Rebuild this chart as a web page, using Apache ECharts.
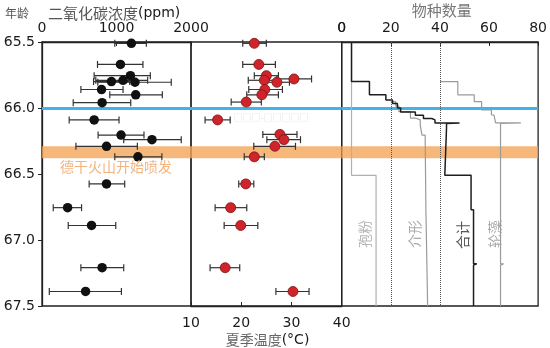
<!DOCTYPE html>
<html><head><meta charset="utf-8">
<script src="https://cdn.jsdelivr.net/npm/echarts/dist/echarts.min.js"></script>
<style>html,body{margin:0;padding:0;background:#fff}#c{width:550px;height:348px}</style>
</head><body><div id="c"></div>
<script>
// ---- data ----
const ageTicks = [65.5, 66.0, 66.5, 67.0, 67.5];
const co2Ticks = [0, 1000, 2000];
const tempTicks = [10, 20, 30, 40];
const speciesTicks = [0, 20, 40, 60, 80];

const co2Age  = [65.51, 65.67, 65.755, 65.79, 65.80, 65.805, 65.86, 65.90, 65.96, 66.09, 66.205, 66.24, 66.29, 66.37, 66.575, 66.755, 66.89, 67.21, 67.39];
const co2Val  = [1200, 1053, 1187, 1088, 932, 1248, 799, 1258, 807, 700, 1061, 1476, 866, 1288, 866, 344, 665, 807, 585];
const co2Low  = [977, 745, 700, 722, 692, 749, 522, 910, 419, 365, 753, 1097, 455, 977, 633, 151, 352, 522, 98];
const co2High = [1401, 1355, 1454, 1418, 1177, 1735, 1088, 1615, 1191, 1034, 1369, 1869, 1280, 1609, 1110, 531, 990, 1097, 1066];

const tempAge  = [65.51, 65.67, 65.755, 65.78, 65.79, 65.805, 65.86, 65.90, 65.955, 66.09, 66.2, 66.24, 66.29, 66.37, 66.575, 66.755, 66.89, 67.21, 67.39];
const tempVal  = [22.6, 23.5, 25.0, 30.5, 24.6, 27.1, 24.7, 24.1, 21.0, 15.3, 27.7, 28.5, 26.7, 22.6, 20.9, 17.9, 19.9, 16.8, 30.3];
const tempLow  = [20.3, 20.3, 22.6, 27.1, 21.4, 24.6, 21.5, 21.1, 18.0, 12.8, 24.3, 25.1, 22.5, 20.6, 19.5, 14.8, 16.6, 13.8, 26.9];
const tempHigh = [25.0, 26.8, 27.4, 34.0, 27.0, 29.6, 28.2, 27.4, 24.0, 17.8, 31.1, 31.8, 30.8, 24.6, 22.5, 21.1, 23.3, 19.7, 33.5];

// species counts (step curves): age breaks and count held between breaks
const pollenBreaks = [65.5, 66.51, 67.5];
const pollenCounts = [4, 14];
const ostraBase = 20;
const ostraBreaks = [65.952, 65.985, 66.028, 66.076, 66.09, 66.129, 66.205, 66.227, 66.77, 67.5];
const ostraCounts = [22, 23.3, 28, 30, 32, 32.7, 34, 34.3, 35];
const totalBreaks = [65.5, 65.80, 65.90, 65.94, 65.965, 66.00, 66.03, 66.055, 66.08, 66.09, 66.113, 66.117, 66.15, 66.51, 66.77, 67.18, 67.19, 67.5];
const totalCounts = [4, 11.3, 18, 20.7, 22.7, 24, 30, 33.3, 36.7, 38, 48, 42.7, 42, 52.7, 53.7, 55, 53.7];
const charaBase = 40;
const charaBreaks = [65.80, 65.90, 65.952, 66.015, 66.053, 66.068, 66.113, 66.117, 67.18, 67.19, 67.5];
const charaCounts = [47.3, 54, 57, 61, 62, 62.7, 73, 64.7, 66, 64.7];

const boundaryAge = 66.0;
const deccanStart = 66.29, deccanEnd = 66.38;
const baseLines = [20, 40];

// ---- helpers ----
function stairs(breaks, counts, base) {
  const pts = [];
  if (base !== undefined) pts.push([base, breaks[0]]);
  for (let i = 0; i < counts.length; i++) {
    pts.push([counts[i], breaks[i]]);
    pts.push([counts[i], breaks[i + 1]]);
  }
  return pts;
}
function errRender(params, api) {
  const y = api.value(2);
  const p1 = api.coord([api.value(0), y]);
  const p2 = api.coord([api.value(1), y]);
  const h = 3.5, st = {stroke: '#333', lineWidth: 1.2};
  return {type: 'group', children: [
    {type: 'line', shape: {x1: p1[0], y1: p1[1], x2: p2[0], y2: p2[1]}, style: st},
    {type: 'line', shape: {x1: p1[0], y1: p1[1] - h, x2: p1[0], y2: p1[1] + h}, style: st},
    {type: 'line', shape: {x1: p2[0], y1: p2[1] - h, x2: p2[0], y2: p2[1] + h}, style: st}
  ]};
}
const numFont = {fontFamily: 'DejaVu Sans', fontSize: 14, color: '#1a1a1a'};
const blueLine = {silent: true, symbol: 'none', label: {show: false},
  lineStyle: {color: '#40b3ea', width: 3, type: 'solid'}, data: [{yAxis: boundaryAge}], z: 1};
const orangeArea = {silent: true, itemStyle: {color: 'rgba(244,165,90,0.8)'},
  data: [[{yAxis: deccanStart}, {yAxis: deccanEnd}]]};

const gridCommon = {top: 42, height: 264, show: true, borderColor: '#222', borderWidth: 1.3, backgroundColor: 'transparent'};
function yAx(idx, showAxis) {
  return {gridIndex: idx, show: showAxis, type: 'value', inverse: true, min: ageTicks[0], max: ageTicks[ageTicks.length - 1], interval: 0.5,
    axisLine: {show: showAxis, lineStyle: {color: '#222', width: 1.3}},
    axisTick: {show: showAxis, inside: false, length: 4, lineStyle: {color: '#222'}},
    axisLabel: Object.assign({show: showAxis, margin: 7, formatter: v => v.toFixed(1)}, numFont),
    splitLine: {show: false}};
}
function xLabel(margin) {
  return Object.assign({margin: margin, showMinLabel: true, showMaxLabel: true, hideOverlap: false, formatter: v => String(v)}, numFont);
}

const chart = echarts.init(document.getElementById('c'), null, {renderer: 'canvas'});
chart.setOption({
  animation: false,
  grid: [
    Object.assign({left: 42, width: 149}, gridCommon),
    Object.assign({left: 191, width: 150.7}, gridCommon),
    Object.assign({left: 341.7, width: 200}, gridCommon)
  ],
  xAxis: [
    {gridIndex: 0, type: 'value', position: 'top', min: co2Ticks[0], max: co2Ticks[2], interval: 1000,
      axisLine: {lineStyle: {color: '#222', width: 1.3}}, axisTick: {inside: true, length: 4, lineStyle: {color: '#222'}},
      axisLabel: xLabel(7), splitLine: {show: false}},
    {gridIndex: 1, type: 'value', position: 'bottom', min: tempTicks[0], max: tempTicks[3], interval: 10,
      axisLine: {lineStyle: {color: '#222', width: 1.3}}, axisTick: {inside: true, length: 4, lineStyle: {color: '#222'}},
      axisLabel: xLabel(10), splitLine: {show: false}},
    {gridIndex: 2, type: 'value', position: 'top', min: speciesTicks[0], max: speciesTicks[4], interval: 20,
      axisLine: {lineStyle: {color: '#222', width: 1.3}}, axisTick: {inside: true, length: 4, lineStyle: {color: '#222'}},
      axisLabel: xLabel(7), splitLine: {show: false}}
  ],
  yAxis: [yAx(0, true), yAx(1, false), yAx(2, false)],
  series: [
    {type: 'custom', xAxisIndex: 0, yAxisIndex: 0, renderItem: errRender, encode: {x: [0, 1], y: 2},
      data: co2Age.map((a, i) => [co2Low[i], co2High[i], a]), z: 3, markArea: orangeArea},
    {type: 'scatter', xAxisIndex: 0, yAxisIndex: 0, symbolSize: 9.5, itemStyle: {color: '#111', opacity: 1},
      data: co2Age.map((a, i) => [co2Val[i], a]), z: 4, markLine: blueLine},
    {type: 'custom', xAxisIndex: 1, yAxisIndex: 1, renderItem: errRender, encode: {x: [0, 1], y: 2},
      data: tempAge.map((a, i) => [tempLow[i], tempHigh[i], a]), z: 3, markArea: orangeArea},
    {type: 'scatter', xAxisIndex: 1, yAxisIndex: 1, symbolSize: 10,
      itemStyle: {color: '#d1232a', borderColor: '#7a1414', borderWidth: 0.8, opacity: 1},
      data: tempAge.map((a, i) => [tempVal[i], a]), z: 4, markLine: blueLine},
    {type: 'line', xAxisIndex: 2, yAxisIndex: 2, symbol: 'none', lineStyle: {color: '#b0b0b0', width: 1.2},
      data: stairs(pollenBreaks, pollenCounts), z: 3, markArea: orangeArea,
      markLine: {silent: true, symbol: 'none', label: {show: false}, lineStyle: {color: '#555', width: 1, type: [1, 1]},
        data: baseLines.map(v => ({xAxis: v}))}},
    {type: 'line', xAxisIndex: 2, yAxisIndex: 2, symbol: 'none', lineStyle: {color: '#9a9a9a', width: 1.2},
      data: stairs(ostraBreaks, ostraCounts, ostraBase), z: 3},
    {type: 'line', xAxisIndex: 2, yAxisIndex: 2, symbol: 'none', lineStyle: {color: '#9a9a9a', width: 1.2},
      data: stairs(charaBreaks, charaCounts, charaBase), z: 3},
    {type: 'line', xAxisIndex: 2, yAxisIndex: 2, symbol: 'none', lineStyle: {color: '#1e1e1e', width: 1.5},
      data: stairs(totalBreaks, totalCounts), z: 4, markLine: blueLine}
  ],
  graphic: [
    {type: 'text', x: 5, y: 13, style: {text: '年龄', fontFamily: 'Noto Sans CJK SC', fontSize: 12, fill: '#555', verticalAlign: 'middle'}},
    {type: 'text', x: 48, y: 13, style: {text: '{a|二氧化碳浓度}{b|(ppm)}', verticalAlign: 'middle',
      rich: {a: {fontFamily: 'Noto Sans CJK SC', fontSize: 15, fill: '#555'}, b: {fontFamily: 'DejaVu Sans', fontSize: 14, fill: '#1a1a1a'}}}},
    {type: 'text', x: 441.7, y: 10, style: {text: '物种数量', fontFamily: 'Noto Sans CJK SC', fontSize: 15, fill: '#777', align: 'center', verticalAlign: 'middle'}},
    {type: 'text', x: 341.7, y: 28, style: {text: String(speciesTicks[0]), fontFamily: 'DejaVu Sans', fontSize: 14, fill: '#1a1a1a', align: 'center', verticalAlign: 'middle'}},
    {type: 'text', x: 267.5, y: 340, style: {text: '{a|夏季温度}{b|(°C)}', align: 'center', verticalAlign: 'middle',
      rich: {a: {fontFamily: 'Noto Sans CJK SC', fontSize: 14, fill: '#666'}, b: {fontFamily: 'DejaVu Sans', fontSize: 14, fill: '#1a1a1a'}}}},
    {type: 'text', x: 116, y: 167, z: 10, style: {text: '德干火山开始喷发', fontFamily: 'Noto Sans CJK SC', fontSize: 14, fill: '#f2b580', align: 'center', verticalAlign: 'middle'}},
    {type: 'text', x: 271, y: 118, z: 10, style: {text: '□□□-□□□□□', fontFamily: 'Noto Sans CJK SC', fontSize: 9, fill: '#d3dce8', align: 'center', verticalAlign: 'middle'}},
    {type: 'text', x: 365, y: 234, rotation: Math.PI / 2, style: {text: '孢粉', fontFamily: 'Noto Sans CJK SC', fontSize: 14, fill: '#b8b8b8', align: 'center', verticalAlign: 'middle'}},
    {type: 'text', x: 415, y: 234, rotation: Math.PI / 2, style: {text: '介形', fontFamily: 'Noto Sans CJK SC', fontSize: 14, fill: '#aaa', align: 'center', verticalAlign: 'middle'}},
    {type: 'text', x: 463, y: 235, rotation: Math.PI / 2, style: {text: '合计', fontFamily: 'Noto Sans CJK SC', fontSize: 14, fill: '#555', align: 'center', verticalAlign: 'middle'}},
    {type: 'text', x: 495, y: 234, rotation: Math.PI / 2, style: {text: '轮藻', fontFamily: 'Noto Sans CJK SC', fontSize: 14, fill: '#aaa', align: 'center', verticalAlign: 'middle'}}
  ]
});
</script></body></html>
